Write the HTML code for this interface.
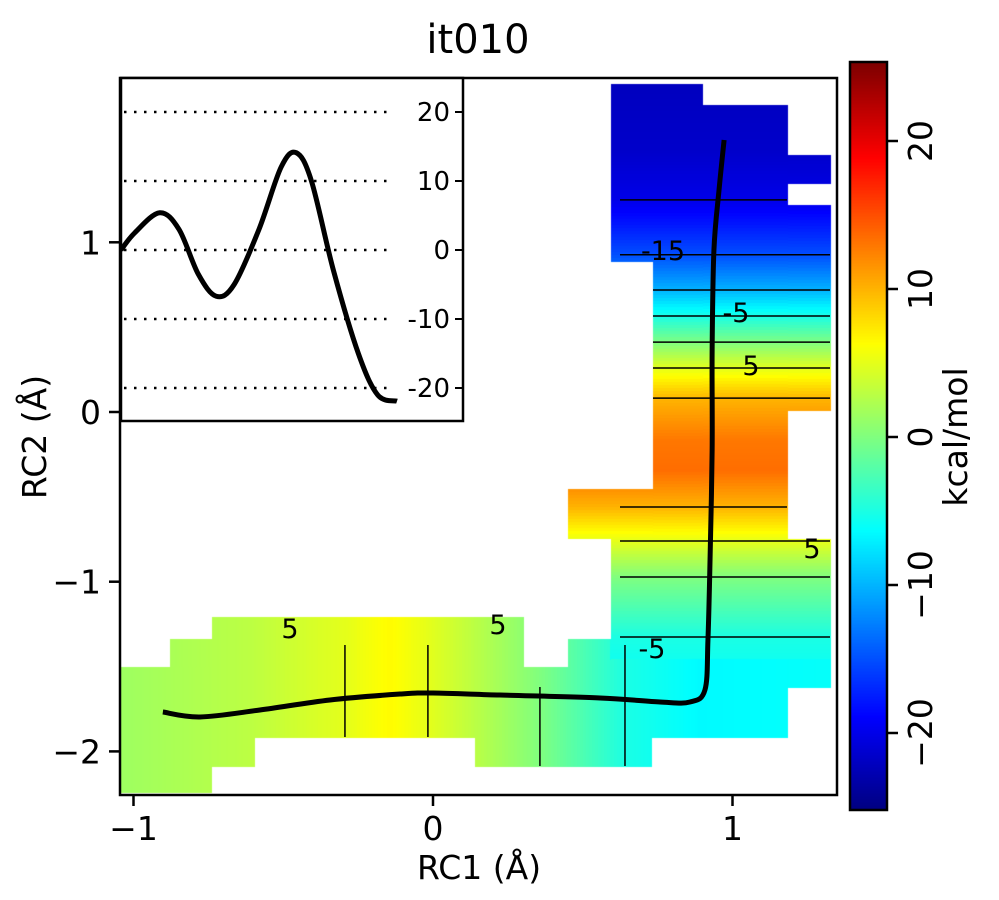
<!DOCTYPE html>
<html><head><meta charset="utf-8"><style>
body{margin:0;background:#fff;width:999px;height:900px;overflow:hidden;position:relative;font-family:"DejaVu Sans","Liberation Sans",sans-serif}
canvas,svg{position:absolute;left:0;top:0}
svg text{font-family:"DejaVu Sans","Liberation Sans",sans-serif}
</style></head><body>
<canvas id="heat" width="999" height="900"></canvas>
<svg id="chart" width="999" height="900"></svg>
<script>
// ---- data ----
const vProfY = [1.897,1.544,1.25,0.927,0.719,0.566,0.412,0.259,0.082,-0.165,-0.342,-0.560,-0.760,-0.972,-1.326,-1.697,-1.933];
const vProfV = [-22,-21.5,-20,-15,-10,-5,0,5,10,13,13.5,10,5,0,-5,-6.5,-6];
const hProfX = [-1.045,-0.611,-0.294,-0.144,-0.017,0.357,0.641,0.891,1.345];
const hProfV = [1.5,3,5,6.5,5,0,-5,-6.5,-6];
const contourLevels = [-20,-15,-10,-5,0,5,10];
const pathX = [-0.902,-0.778,-0.578,-0.344,-0.110,0,0.224,0.558,0.758,0.858,0.908,0.918,0.925,0.932,0.932,0.938,0.955,0.972];
const pathY = [-1.768,-1.797,-1.756,-1.697,-1.662,-1.656,-1.668,-1.685,-1.709,-1.709,-1.638,-1.344,-0.872,-0.224,0.365,0.954,1.308,1.603];
const profS = [0,0.05,0.14,0.21,0.28,0.345,0.41,0.5,0.58,0.635,0.69,0.77,0.86,0.93,1.0];
const profV = [0,2.5,5.4,3,-3.5,-6.7,-5,3,12,14.1,10,-3,-15,-21,-21.9];
const insetTicks = [20,10,0,-10,-20];
const xTicks = [-1,0,1], yTicks = [1,0,-1,-2], cbTicks = [20,10,0,-10,-20];
const maskPx = [[611,703,84,262],[703,788,105,539],[788,831,155,184],[788,831,205,411],[653,703,262,539],[568,653,489,539],[611,831,539,688],[611,788,688,738],
 [120,212,667,793],[170,212,639,667],[212,255,617,767],[255,475,617,738],[475,524,617,767],[524,568,667,767],[568,611,639,767],[611,652,738,767]];
// ---- scales ----
const X=v=>433+v*299.5, Y=v=>412-v*169.7;
const IX=x=>(x-433)/299.5, IY=y=>(412-y)/169.7;
const VMIN=-25.2,VMAX=25.2;
const CB=v=>437-v*14.8;
const IS=s=>121+s*276, IV=v=>250-v*6.9;
function interp(xs,vs,x){
  const asc=xs[0]<xs[xs.length-1];
  for(let i=0;i<xs.length-1;i++){const a=xs[i],b=xs[i+1];
    if((asc&&x>=a&&x<=b)||(!asc&&x<=a&&x>=b)){const t=(x-a)/(b-a);return vs[i]+t*(vs[i+1]-vs[i]);}}
  const first=asc?x<xs[0]:x>xs[0];return first?vs[0]:vs[vs.length-1];}
function jet(t){t=Math.max(0,Math.min(1,t));const c=v=>Math.round(255*Math.max(0,Math.min(1,v)));
  return `rgb(${c(1.5-Math.abs(4*t-3))},${c(1.5-Math.abs(4*t-2))},${c(1.5-Math.abs(4*t-1))})`;}
function inMask(px,py){return maskPx.some(r=>px>=r[0]&&px<r[1]&&py>=r[2]&&py<r[3]);}
function val(px,py){ if(py<600 || (px>=611&&py<660)) return interp(vProfY,vProfV,IY(py)); return interp(hProfX,hProfV,IX(px)); }
// ---- heatmap ----
const ctx=document.getElementById('heat').getContext('2d');
const st=3;
for(const r of maskPx){for(let x=r[0];x<r[1];x+=st)for(let y=r[2];y<r[3];y+=st){
  ctx.fillStyle=jet((val(x+1,y+1)-VMIN)/(VMAX-VMIN));ctx.fillRect(x,y,Math.min(st,r[1]-x),Math.min(st,r[3]-y));}}
for(let y=62;y<810;y++){const v=(437-y)/14.8;ctx.fillStyle=jet((v-VMIN)/(VMAX-VMIN));ctx.fillRect(850,y,37,1);}
// ---- svg ----
const svg=document.getElementById('chart');const NS='http://www.w3.org/2000/svg';
function mk(t,a,p){const e=document.createElementNS(NS,t);for(const k in a)e.setAttribute(k,a[k]);(p||svg).appendChild(e);return e;}
function cross(a,b,L){return (a<L)!==(b<L);}
contourLevels.forEach(L=>{
  for(let i=0;i<vProfV.length-1;i++){const a=vProfV[i],b=vProfV[i+1];
    if(cross(a,b,L)){const yd=vProfY[i]+(L-a)/(b-a)*(vProfY[i+1]-vProfY[i]);const py=Y(yd);
      if(py>660)continue;let x0=null,x1=null;for(let x=560;x<840;x++){if(inMask(x,py)){if(x0===null)x0=x;x1=x;}}
      if(x0===null)continue;
      const ln=mk('line',{x1:Math.max(x0,620),y1:py,x2:x1,y2:py,stroke:'#000','stroke-width':1.5});
      }}
  for(let i=0;i<hProfV.length-1;i++){const a=hProfV[i],b=hProfV[i+1];
    if(cross(a,b,L)){const xd=hProfX[i]+(L-a)/(b-a)*(hProfX[i+1]-hProfX[i]);const px=X(xd);
      let y0=null,y1=null;for(let y=600;y<800;y++){if(inMask(px,y)){if(y0===null)y0=y;y1=y;}}
      if(y0===null)continue;
      const ln=mk('line',{x1:px,y1:Math.max(y0+20,645),x2:px,y2:y1,stroke:'#000','stroke-width':1.5});
      }}
});
[['-15',663,260],['-5',736,322],['5',751,375],['5',812,558],['5',290,638],['5',498,634],['-5',652,658]].forEach(l=>{
  const t=mk('text',{x:l[1],y:l[2],'text-anchor':'middle',fill:'#000',style:'font-size:27px'});t.textContent=l[0];
  });
function smooth(pts){let d=`M${pts[0][0]},${pts[0][1]}`;for(let i=0;i<pts.length-1;i++){const p0=pts[Math.max(0,i-1)],p1=pts[i],p2=pts[i+1],p3=pts[Math.min(pts.length-1,i+2)];
  d+=` C${p1[0]+(p2[0]-p0[0])/6},${p1[1]+(p2[1]-p0[1])/6} ${p2[0]-(p3[0]-p1[0])/6},${p2[1]-(p3[1]-p1[1])/6} ${p2[0]},${p2[1]}`;}return d;}
const mep=mk('path',{d:smooth(pathX.map((x,i)=>[X(x),Y(pathY[i])])),fill:'none',stroke:'#000','stroke-width':5,'stroke-linejoin':'round'});

const fr=mk('rect',{x:120,y:78,width:717,height:717,fill:'none',stroke:'#000','stroke-width':2.5});

xTicks.forEach(v=>{mk('line',{x1:X(v),y1:795,x2:X(v),y2:806,stroke:'#000','stroke-width':2.5});
  const t=mk('text',{x:X(v),y:840,'text-anchor':'middle',style:'font-size:33px'});t.textContent=v<0?'\u2212'+(-v):v;
  });
yTicks.forEach(v=>{mk('line',{x1:109,y1:Y(v),x2:120,y2:Y(v),stroke:'#000','stroke-width':2.5});
  const t=mk('text',{x:101,y:Y(v)+12,'text-anchor':'end',style:'font-size:33px'});t.textContent=v<0?'\u2212'+(-v):v;
  });
const ins=mk('rect',{x:121,y:78,width:342,height:343,fill:'#fff',stroke:'#000','stroke-width':2.5});

insetTicks.forEach(v=>{const g=mk('line',{x1:124,y1:IV(v),x2:392,y2:IV(v),stroke:'#000','stroke-width':2.5,'stroke-dasharray':'2.5,7.5'});
  
  mk('line',{x1:455,y1:IV(v),x2:463,y2:IV(v),stroke:'#000','stroke-width':2});
  const t=mk('text',{x:450,y:IV(v)+9,'text-anchor':'end',style:'font-size:26px'});t.textContent=v;
  });
const prof=mk('path',{d:smooth(profS.map((s,i)=>[IS(s),IV(profV[i])])),fill:'none',stroke:'#000','stroke-width':5});

const cbf=mk('rect',{x:850,y:62,width:37,height:748,fill:'none',stroke:'#000','stroke-width':2.5});

cbTicks.forEach(v=>{mk('line',{x1:887,y1:CB(v),x2:898,y2:CB(v),stroke:'#000','stroke-width':2.5});
  const t=mk('text',{x:0,y:0,'text-anchor':'middle',style:'font-size:33px',transform:`translate(932,${CB(v)}) rotate(-90)`});
  t.textContent=v<0?'\u2212'+(-v):v;});
[['it010',478,53,40,0,'chart-title'],['RC1 (Å)',479,879,33,0,'x-axis-title'],['RC2 (Å)',46,437,33,-90,'y-axis-title'],['kcal/mol',967,437,33,-90,'colorbar-title']].forEach(a=>{
  const t=mk('text',{x:0,y:0,'text-anchor':'middle',style:`font-size:${a[3]}px`,transform:`translate(${a[1]},${a[2]}) rotate(${a[4]})`});
  t.textContent=a[0];});
</script>
</body></html>
